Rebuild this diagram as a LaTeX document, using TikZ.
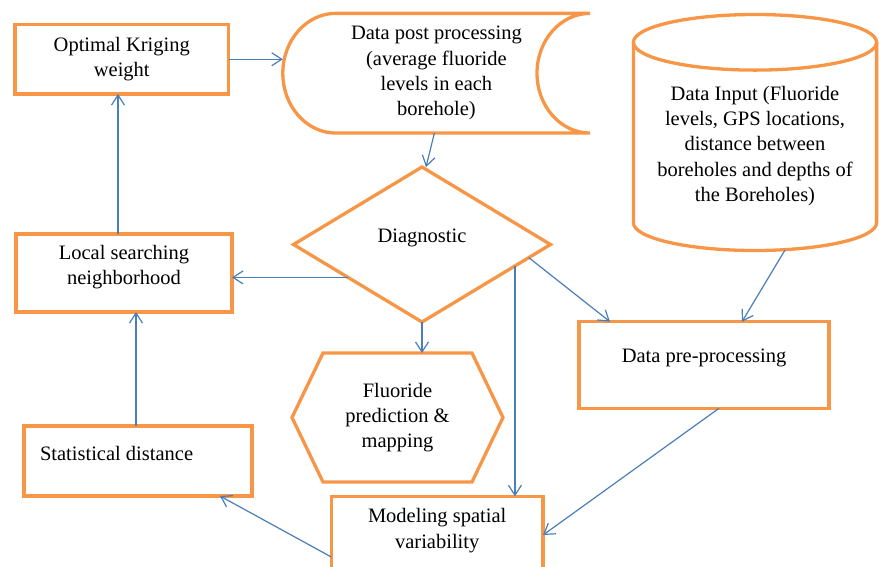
\documentclass[tikz,border=0pt]{standalone}
\usepackage{fontspec}
\setmainfont{Liberation Serif}
\usetikzlibrary{arrows.meta,shapes.geometric,calc}
\definecolor{orng}{HTML}{F79646}
\definecolor{pfeil}{HTML}{4A7EBB}
\tikzset{
  shp/.style={draw=orng,line width=3.3pt},
  box/.style={shp,rectangle,inner sep=0pt,outer sep=0pt,align=center},
  txt/.style={inner sep=0pt,outer sep=0pt,align=center},
  arr/.style={-{Straight Barb[length=10pt,width=13pt]},pfeil,line width=1.2pt},
}

\begin{document}
\begin{tikzpicture}[x=1pt,y=-1pt,font=\fontsize{20.5pt}{25.3pt}\selectfont]
  \useasboundingbox (0,0) rectangle (879,566);
  \clip (0,0) rectangle (879,566);
  % --- linke Spalte ---
  \node[box,minimum width=213.5pt,minimum height=69.5pt] (opt) at (121.75,59.25) {Optimal Kriging\\weight};
  \node[box,minimum width=216pt,minimum height=78pt,
    label={[txt,yshift=6pt]center:Local searching\\neighborhood}] (local) at (124,273) {};
  \node[box,minimum width=228pt,minimum height=70pt,
    label={[txt,anchor=west,xshift=16pt,yshift=8pt]west:Statistical distance}] (stat) at (138,461) {};
  % --- Mitte ---
  \node[txt,minimum width=307.2pt,minimum height=119.7pt] (post) at (436.4,73.2)
    {Data post processing\\(average fluoride\\levels in each\\borehole)};
  \draw[shp] ([xshift=53pt]post.north west) -- (post.north east)
    arc[start angle=90,end angle=270,x radius=53pt,y radius=59.85pt]
    -- ([xshift=53pt]post.south west)
    arc[start angle=270,end angle=90,x radius=53pt,y radius=59.85pt] -- cycle;
  \node[diamond,shp,inner sep=0pt,outer sep=0pt,minimum width=257pt,minimum height=155pt,
    label={[txt,yshift=7pt]center:Diagnostic}] (diag) at (422,244.5) {};
  \node[txt,minimum width=211pt,minimum height=129pt] (fluor) at (397.5,417.5)
    {Fluoride\\prediction \&\\mapping};
  \draw[shp] ([xshift=31pt]fluor.north west) -- ([xshift=-31pt]fluor.north east) -- (fluor.east)
    -- ([xshift=-31pt]fluor.south east) -- ([xshift=31pt]fluor.south west) -- (fluor.west) -- cycle;
  \node[box,minimum width=211.7pt,minimum height=77.4pt,
    label={[txt,yshift=4.5pt]center:Modeling spatial\\variability}] (model) at (437.2,535) {};
  % --- rechte Spalte ---
  \draw[shp] (633.4,42.3) -- (633.4,222.7)
    arc[start angle=180,end angle=360,x radius=121.6pt,y radius=27.8pt] -- (876.6,42.3);
  \draw[shp] (755,42.3) ellipse [x radius=121.6pt,y radius=27.8pt];
  \node[txt] (input) at (755,146)
    {Data Input (Fluoride\\levels, GPS locations,\\distance between\\boreholes and depths of\\the Boreholes)};
  \coordinate (inbot) at (785,250);
  \node[box,minimum width=250pt,minimum height=86.6pt,
    label={[txt,yshift=7pt]center:Data pre-processing}] (pre) at (704,365) {};
  % --- Pfeile ---
  \draw[arr] (opt.east) -- (opt.east -| post.west);
  \draw[arr] ([xshift=-2pt]post.south) -- ([xshift=4pt]diag.north);
  \draw[arr] (diag.204) -- (diag.204 -| local.east);
  \draw[arr] (diag.south) -- (diag.south |- fluor.north);
  \draw[arr] (diag.347.7) -- (diag.347.7 |- model.north);
  \draw[arr] (diag.353.3) -- ([xshift=31pt]pre.north west);
  \draw[arr] (inbot) -- ([xshift=38pt]pre.north);
  \draw[arr] ([xshift=15pt]pre.south) -- (model.east);
  \draw[arr] ([yshift=-22pt]model.west) -- ([xshift=82pt]stat.south);
  \draw[arr] ([xshift=-2pt]stat.north) -- ([xshift=-2pt]stat.north |- local.south);
  \draw[arr] ([xshift=-6pt]local.north) -- ([xshift=-6pt]local.north |- opt.south);
\end{tikzpicture}
\end{document}
